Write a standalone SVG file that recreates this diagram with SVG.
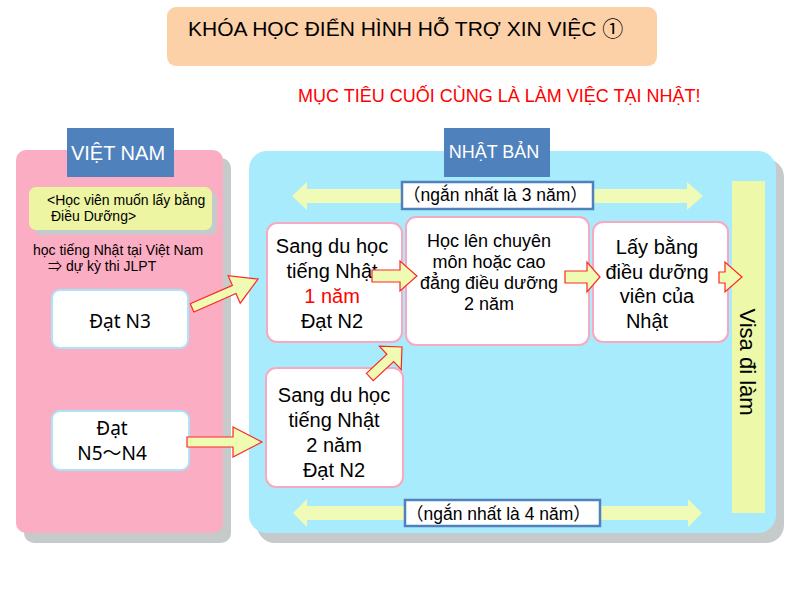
<svg xmlns="http://www.w3.org/2000/svg" width="800" height="600" viewBox="0 0 800 600">
<style>
text{font-family:"Liberation Sans","Noto Sans CJK JP",Arial,sans-serif;fill:#000}
.shadow{fill:#C6CACA}
.head{fill:#4F81BD}
.headt{fill:#fff;text-anchor:middle}
.node{fill:#fff;stroke:#F6A9C0;stroke-width:2}
.vn{fill:#fff;stroke:#A9E4F7;stroke-width:2}
.big{font-size:20px;text-anchor:middle}
.mid{font-size:18px;text-anchor:middle}
.small{font-size:14px}
.jp{font-family:"Noto Sans","Noto Sans CJK JP",sans-serif;font-size:19px;text-anchor:middle}
.barrow{fill:#EFFBB2;stroke:#FF2626;stroke-width:1.2;stroke-linejoin:miter}
.range{fill:#EFFBB6}
.lbl{fill:#fff;stroke:#4F81BD;stroke-width:2.5}
.lblt{font-size:17.5px;font-family:"Liberation Sans","Noto Sans CJK JP",sans-serif}
</style>

<g id="title">
<rect x="167" y="7" width="490" height="59" rx="9" fill="#FDD1A8"/>
<text x="188" y="36" font-size="21">KHÓA HỌC ĐIỂN HÌNH HỖ TRỢ XIN VIỆC ①</text>
</g>
<g id="goal">
<text x="298" y="102" font-size="18" style="fill:#FF0000">MỤC TIÊU CUỐI CÙNG LÀ LÀM VIỆC TẠI NHẬT!</text>
</g>

<g id="vietnam-panel">
<rect class="shadow" x="24" y="158" width="207" height="385" rx="10"/>
<rect x="16" y="150" width="207" height="383" rx="10" fill="#FBADC3"/>
<rect class="head" x="67" y="128" width="107" height="49"/>
<text class="headt" x="118" y="160" style="font-size:20px">VIỆT NAM</text>
</g>

<g id="japan-panel">
<rect class="shadow" x="257" y="159" width="527" height="384" rx="18"/>
<rect x="249" y="151" width="527" height="382" rx="18" fill="#A8EBFC"/>
<rect class="head" x="444" y="128" width="106" height="49"/>
<text class="headt" x="494" y="158" style="font-size:18px">NHẬT BẢN</text>
</g>

<g id="target-note">
<rect class="shadow" x="34" y="192" width="183" height="43" rx="7"/>
<rect x="29" y="187" width="183" height="43" rx="7" fill="#EDF5A3"/>
<text class="small" x="47" y="205">&lt;Học viên muốn lấy bằng</text>
<text class="small" x="51" y="221">Điều Dưỡng&gt;</text>
</g>

<g id="study-note">
<text class="small" x="33" y="255">học tiếng Nhật tại Việt Nam</text>
<text class="small" x="48" y="271">⇒ dự kỳ thi JLPT</text>
</g>

<g id="n3">
<rect class="vn" x="52" y="290" width="136" height="58" rx="8"/>
<text class="jp" x="120" y="328">Đạt N3</text>
</g>

<g id="n5n4">
<rect class="vn" x="52" y="411" width="137" height="59" rx="8"/>
<text class="jp" x="112" y="435">Đạt</text>
<text class="jp" x="112" y="460">N5～N4</text>
</g>

<g id="range-arrows">
<path class="range" d="M292,196 L307,182 V189 H687 V182 L703,196 L687,210 V203 H307 V210 Z"/>
<rect class="lbl" x="402" y="182" width="191" height="27"/>
<text class="lblt" x="403" y="201">（ngắn nhất là 3 năm）</text>
<path class="range" d="M293,513 L307,499 V506 H688 V499 L702,513 L688,527 V520 H307 V527 Z"/>
<rect class="lbl" x="405" y="500" width="195" height="26"/>
<text class="lblt" x="406" y="520">（ngắn nhất là 4 năm）</text>
</g>

<g id="visa">
<rect x="732" y="181" width="33" height="332" fill="#EDF9A9"/>
<text x="748" y="362" font-size="22" text-anchor="middle" transform="rotate(90 748 362)" dy="8">Visa đi làm</text>
</g>

<g id="study1">
<rect class="node" x="267" y="223" width="135" height="119" rx="10"/>
<text class="big" x="332" y="253">Sang du học</text>
<text class="big" x="332" y="278">tiếng Nhật</text>
<text class="big" x="332" y="303" style="fill:#FF0000">1 năm</text>
<text class="big" x="332" y="328">Đạt N2</text>
</g>

<g id="college">
<rect class="node" x="406" y="217" width="183" height="128" rx="10"/>
<text class="mid" x="489" y="247">Học lên chuyên</text>
<text class="mid" x="489" y="268">môn hoặc cao</text>
<text class="mid" x="489" y="289">đẳng điều dưỡng</text>
<text class="mid" x="489" y="310">2 năm</text>
</g>

<g id="license">
<rect class="node" x="593" y="222" width="135" height="120" rx="10"/>
<text class="big" x="657" y="254">Lấy bằng</text>
<text class="big" x="657" y="279">điều dưỡng</text>
<text class="big" x="657" y="303">viên của</text>
<text class="big" x="647" y="328">Nhật</text>
</g>

<g id="study2">
<rect class="node" x="266" y="368" width="137" height="119" rx="10"/>
<text class="big" x="334" y="402">Sang du học</text>
<text class="big" x="334" y="427">tiếng Nhật</text>
<text class="big" x="334" y="452">2 năm</text>
<text class="big" x="334" y="477">Đạt N2</text>
</g>

<g id="connectors">
<path class="barrow" transform="translate(258,279) rotate(-23.7)" d="M-72,-4.5 L-26,-4.5 L-26,-15 L0,0 L-26,15 L-26,4.5 L-72,4.5 Z"/>
<path class="barrow" d="M187,437 H233 V427 L262,442 L233,457 V447 H187 Z"/>
<path class="barrow" d="M372,270 H400 V261 L417,276 L400,291 V282 H372 Z"/>
<path class="barrow" d="M565,271 H587 V262 L600,277 L587,292 V283 H565 Z"/>
<path class="barrow" d="M719,272 H725 V262 L742,277 L725,292 V283 H719 Z"/>
<path class="barrow" transform="translate(402,347) rotate(-43)" d="M-44,-5 L-16,-5 L-16,-16 L0,0 L-16,16 L-16,5 L-44,5 Z"/>
</g>
</svg>
